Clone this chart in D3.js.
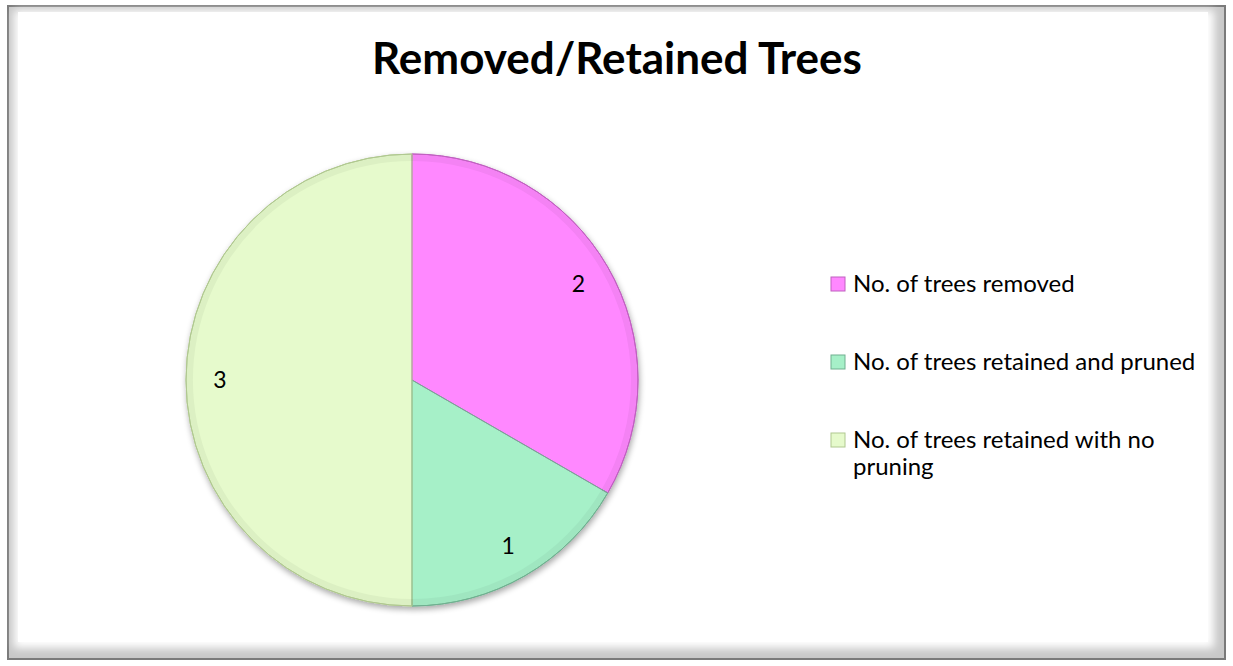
<!DOCTYPE html>
<html>
<head>
<meta charset="utf-8">
<script src="https://cdn.jsdelivr.net/npm/d3@7"></script>
<style>
  body { margin: 0; background: #fff; }
  svg { display: block; }
</style>
</head>
<body>
<svg id="chart" width="1233" height="666"></svg>
<script>
// data
var categories = ["No. of trees removed", "No. of trees retained and pruned", "No. of trees retained with no pruning"];
var values = [2, 1, 3];
var colors = ["#ff88ff", "#a6f0c8", "#e6facc"];
var edgeColors = ["#c060c0", "#70b090", "#b0c890"];

var W = 1233, H = 666;
var center = [412, 380];
var radius = 226;
var font = "Lato, 'Open Sans', 'Liberation Sans', sans-serif";

window.onload = function() {
   var svg = d3.select("#chart");
   drawFrame(svg);
   drawPie(svg);
   drawLegend(svg);
};

function drawFrame(svg) {
   var defs = svg.append("defs");
   var blur = defs.append("filter").attr("id", "frameShadow")
      .attr("x", "-5%").attr("y", "-5%").attr("width", "110%").attr("height", "110%");
   blur.append("feGaussianBlur").attr("stdDeviation", 4);

   // outer grey border
   svg.append("rect")
      .attr("x", 7).attr("y", 5).attr("width", 1219).attr("height", 655)
      .attr("fill", "#7a7a7a");
   // soft inner bevel
   svg.append("rect")
      .attr("x", 9).attr("y", 7).attr("width", 1215).attr("height", 651)
      .attr("fill", "#c8c8c8");
   svg.append("rect")
      .attr("x", 14).attr("y", 10).attr("width", 1200).attr("height", 638)
      .attr("fill", "#fff")
      .attr("filter", "url(#frameShadow)");
   svg.append("rect")
      .attr("x", 18).attr("y", 12).attr("width", 1190).attr("height", 630)
      .attr("fill", "#fff");

   svg.append("text")
      .attr("x", 617).attr("y", 74)
      .attr("text-anchor", "middle")
      .attr("font-family", font)
      .attr("font-weight", "bold")
      .attr("font-size", 44)
      .attr("fill", "#000")
      .text("Removed/Retained Trees");
}

function drawPie(svg) {
   var defs = svg.select("defs");
   var sh = defs.append("filter").attr("id", "pieShadow")
      .attr("x", "-10%").attr("y", "-10%").attr("width", "120%").attr("height", "120%");
   sh.append("feGaussianBlur").attr("in", "SourceAlpha").attr("stdDeviation", 3);
   sh.append("feOffset").attr("dx", 1).attr("dy", 3).attr("result", "b");
   sh.append("feComponentTransfer").append("feFuncA").attr("type", "linear").attr("slope", 0.35);
   var m = sh.append("feMerge");
   m.append("feMergeNode");
   m.append("feMergeNode").attr("in", "SourceGraphic");

   var pie = d3.pie().sort(null).value(function(d) { return d; });
   var arcs = pie(values);
   var arc = d3.arc().innerRadius(0).outerRadius(radius);
   var inner = d3.arc().innerRadius(0).outerRadius(radius - 7);
   var labelArc = d3.arc().innerRadius(radius * 0.85).outerRadius(radius * 0.85);

   var g = svg.append("g")
      .attr("transform", "translate(" + center[0] + "," + center[1] + ")");

   var slices = g.append("g").attr("filter", "url(#pieShadow)");
   slices.selectAll("path.slice")
      .data(arcs)
      .enter().append("path")
      .attr("class", "slice")
      .attr("d", arc)
      .attr("fill", function(d, i) { return d3.color(colors[i]).darker(0.12); })
      .attr("stroke", function(d, i) { return edgeColors[i]; })
      .attr("stroke-width", 1);

   // bevel highlight: lighter core
   g.selectAll("path.core")
      .data(arcs)
      .enter().append("path")
      .attr("class", "core")
      .attr("d", inner)
      .attr("fill", function(d, i) { return colors[i]; });

   // slice edges
   g.selectAll("path.edge")
      .data(arcs)
      .enter().append("path")
      .attr("class", "edge")
      .attr("d", arc)
      .attr("fill", "none")
      .attr("stroke", function(d, i) { return edgeColors[i]; })
      .attr("stroke-width", 1);

   // labels
   g.selectAll("text.lbl")
      .data(arcs)
      .enter().append("text")
      .attr("class", "lbl")
      .attr("x", function(d) { return labelArc.centroid(d)[0]; })
      .attr("y", function(d) { return labelArc.centroid(d)[1]; })
      .attr("dy", "0.35em")
      .attr("text-anchor", "middle")
      .attr("font-family", font)
      .attr("font-size", 23)
      .attr("fill", "#000")
      .text(function(d) { return d.data; });
}

function drawLegend(svg) {
   var rowY = d3.scalePoint().domain(d3.range(categories.length)).range([284, 440]);
   var lg = svg.append("g");
   var rows = lg.selectAll("g.row")
      .data(categories)
      .enter().append("g")
      .attr("class", "row")
      .attr("transform", function(d, i) { return "translate(831," + rowY(i) + ")"; });

   rows.append("rect")
      .attr("x", 0).attr("y", -7).attr("width", 14).attr("height", 14)
      .attr("fill", function(d, i) { return colors[i]; })
      .attr("stroke", function(d, i) { return edgeColors[i]; })
      .attr("stroke-width", 1);

   var txt = rows.append("text")
      .attr("x", 22).attr("y", 0).attr("dy", "0.35em")
      .attr("font-family", font)
      .attr("font-size", 24)
      .attr("fill", "#000");
   txt.each(function(d, i) {
      var t = d3.select(this);
      if (i === 2) {
         t.append("tspan").attr("x", 22).text("No. of trees retained with no");
         t.append("tspan").attr("x", 22).attr("dy", 27).text("pruning");
      } else {
         t.text(d);
      }
   });
}
</script>
</body>
</html>
